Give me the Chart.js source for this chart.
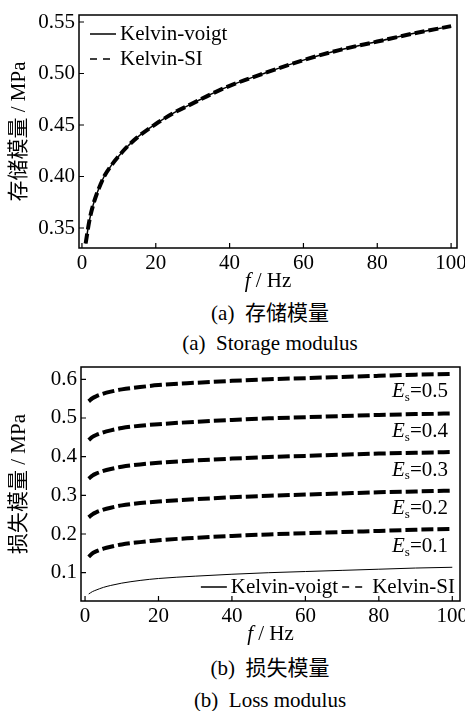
<!DOCTYPE html>
<html>
<head>
<meta charset="utf-8">
<script src="https://cdn.jsdelivr.net/npm/chart.js@4"></script>
<style>
  body { margin: 0; background: #fff; width: 465px; height: 711px; position: relative; overflow: hidden;
         font-family: "Liberation Serif", "Noto Sans CJK SC", serif; color: #000; }
  canvas { position: absolute; left: 0; }
  #storageChart { top: 0; }
  #lossChart { top: 352px; }
  .cap { position: absolute; left: 0; width: 540px; text-align: center; font-size: 21px; line-height: 24px; white-space: pre; }
</style>
</head>
<body>
<canvas id="storageChart" width="465" height="300"></canvas>
<div class="cap" style="top:301px">(a)  存储模量</div>
<div class="cap" style="top:331px">(a)  Storage modulus</div>
<canvas id="lossChart" width="465" height="300"></canvas>
<div class="cap" style="top:656px">(b)  损失模量</div>
<div class="cap" style="top:688px">(b)  Loss modulus</div>

<script>
const FONT = '"Liberation Serif", "Noto Sans CJK SC", serif';

// (a) storage modulus
const storageFreq  = [1, 2, 3, 4, 5, 6, 8, 10, 12, 15, 20, 25, 30, 35, 40, 50, 60, 70, 80, 90, 100];
const storageVoigt = [0.335, 0.357, 0.372, 0.383, 0.392, 0.400, 0.411, 0.420, 0.428, 0.438, 0.451,
                      0.462, 0.471, 0.480, 0.488, 0.501, 0.513, 0.523, 0.531, 0.539, 0.546];
const storageSI    = [0.335, 0.357, 0.372, 0.383, 0.392, 0.400, 0.411, 0.420, 0.428, 0.438, 0.451,
                      0.462, 0.471, 0.480, 0.488, 0.501, 0.513, 0.523, 0.531, 0.539, 0.546];
const storageTicksX = [0, 20, 40, 60, 80, 100];
const storageTicksY = [0.35, 0.40, 0.45, 0.50, 0.55];

// (b) loss modulus
const lossFreq  = [1, 2, 3, 5, 7, 10, 15, 20, 30, 40, 50, 60, 70, 80, 90, 100];
const lossVoigt = [0.045, 0.051, 0.055, 0.062, 0.067, 0.073, 0.080, 0.085, 0.091, 0.096, 0.100, 0.103, 0.106, 0.109, 0.112, 0.114];
const lossSI01  = [0.141, 0.150, 0.155, 0.162, 0.167, 0.173, 0.179, 0.184, 0.190, 0.195, 0.199, 0.202, 0.205, 0.208, 0.211, 0.213];
const lossSI02  = [0.243, 0.251, 0.256, 0.263, 0.268, 0.274, 0.280, 0.284, 0.290, 0.295, 0.299, 0.302, 0.305, 0.308, 0.310, 0.312];
const lossSI03  = [0.343, 0.351, 0.356, 0.363, 0.368, 0.374, 0.380, 0.384, 0.390, 0.395, 0.399, 0.402, 0.405, 0.408, 0.410, 0.412];
const lossSI04  = [0.443, 0.451, 0.456, 0.463, 0.468, 0.474, 0.480, 0.484, 0.490, 0.495, 0.499, 0.502, 0.505, 0.508, 0.510, 0.512];
const lossSI05  = [0.543, 0.551, 0.556, 0.563, 0.568, 0.574, 0.580, 0.585, 0.591, 0.596, 0.600, 0.603, 0.606, 0.609, 0.612, 0.614];
const esValues  = ['0.1', '0.2', '0.3', '0.4', '0.5'];
const lossTicksX = [0, 20, 40, 60, 80, 100];
const lossTicksY = [0.1, 0.2, 0.3, 0.4, 0.5, 0.6];

const legendItems = [
  { label: 'Kelvin-voigt', dash: [], width: 1.5 },
  { label: 'Kelvin-SI', dash: [7, 6], width: 1.5 }
];

function pts(xs, ys) {
  return xs.map((x, i) => ({ x: x, y: ys[i] }));
}

function line(label, data, dash, width) {
  return {
    label: label, data: data, borderColor: '#000', borderWidth: width, borderDash: dash,
    pointRadius: 0, fill: false, cubicInterpolationMode: 'monotone'
  };
}

function xScale(min, max, ticks) {
  return {
    type: 'linear', min: min, max: max,
    grid: { display: false, drawTicks: false },
    border: { display: false },
    afterBuildTicks: s => { s.ticks = ticks.map(v => ({ value: v })); },
    afterFit: s => { s.height = 40; s.paddingLeft = 0; s.paddingRight = 0; },
    ticks: { color: '#000', font: { family: FONT, size: 21 }, padding: 3, maxRotation: 0, minRotation: 0, autoSkip: false }
  };
}

function yScale(min, max, ticks, digits, width, title) {
  return {
    type: 'linear', min: min, max: max,
    grid: { display: false, drawTicks: false },
    border: { display: false },
    afterBuildTicks: s => { s.ticks = ticks.map(v => ({ value: v })); },
    afterFit: s => { s.width = width; s.paddingTop = 0; s.paddingBottom = 0; },
    ticks: { color: '#000', font: { family: FONT, size: 21 }, padding: 4, autoSkip: false,
             callback: v => Number(v).toFixed(digits) },
    title: { display: true, text: title, color: '#000', font: { family: FONT, size: 21 }, padding: { top: 7, bottom: 0 } }
  };
}

// frame, inward ticks, italic x title, legend and E_s labels
function makeFrame(cfg) {
  return {
    id: 'frame',
    afterDraw(chart) {
      const ctx = chart.ctx;
      const a = chart.chartArea;
      const sx = chart.scales.x, sy = chart.scales.y;
      ctx.save();
      ctx.strokeStyle = '#000';
      ctx.fillStyle = '#000';
      ctx.setLineDash([]);
      ctx.lineWidth = 1.5;
      ctx.strokeRect(a.left, a.top, a.right - a.left, a.bottom - a.top);

      ctx.lineWidth = 1.2;
      ctx.beginPath();
      sx.ticks.forEach(t => {
        const x = sx.getPixelForValue(t.value);
        ctx.moveTo(x, a.bottom); ctx.lineTo(x, a.bottom - 5);
      });
      sy.ticks.forEach(t => {
        const y = sy.getPixelForValue(t.value);
        ctx.moveTo(a.left, y); ctx.lineTo(a.left + 5, y);
      });
      ctx.stroke();

      // x title: f / Hz
      ctx.textBaseline = 'middle';
      ctx.textAlign = 'left';
      ctx.font = 'italic 21px ' + FONT;
      const w1 = ctx.measureText('f').width;
      ctx.font = '21px ' + FONT;
      const w2 = ctx.measureText(' / Hz').width;
      let x = (a.left + a.right) / 2 - (w1 + w2) / 2;
      const ty = a.bottom + 33;
      ctx.font = 'italic 21px ' + FONT;
      ctx.fillText('f', x, ty);
      ctx.font = '21px ' + FONT;
      ctx.fillText(' / Hz', x + w1, ty);

      // legend
      ctx.font = '21px ' + FONT;
      const sample = 26, gap = 4;
      if (cfg.legend === 'column') {
        legendItems.forEach((it, i) => {
          const lx = a.left + 11, ly = a.top + 19 + i * 25;
          ctx.lineWidth = it.width;
          ctx.setLineDash(it.dash);
          ctx.beginPath(); ctx.moveTo(lx, ly); ctx.lineTo(lx + sample, ly); ctx.stroke();
          ctx.setLineDash([]);
          ctx.fillText(it.label, lx + sample + gap, ly);
        });
      } else {
        const widths = legendItems.map(it => sample + gap + ctx.measureText(it.label).width);
        const total = widths.reduce((s, w) => s + w, 0) + gap * (legendItems.length - 1);
        let lx = a.right - 5 - total;
        const ly = a.bottom - 14;
        legendItems.forEach((it, i) => {
          ctx.lineWidth = it.width;
          ctx.setLineDash(it.dash);
          ctx.beginPath(); ctx.moveTo(lx, ly); ctx.lineTo(lx + sample, ly); ctx.stroke();
          ctx.setLineDash([]);
          ctx.fillText(it.label, lx + sample + gap, ly);
          lx += widths[i] + gap;
        });
      }

      // E_s labels under the end of each dashed curve
      if (cfg.es) {
        esValues.forEach((v, i) => {
          const ds = chart.data.datasets[i + 1].data;
          const y = sy.getPixelForValue(ds[ds.length - 1].y) + 18;
          ctx.font = 'italic 21px ' + FONT;
          const wE = ctx.measureText('E').width;
          ctx.font = '13px ' + FONT;
          const wS = ctx.measureText('s').width;
          ctx.font = '21px ' + FONT;
          const wV = ctx.measureText('=' + v).width;
          let lx = a.right - 12 - (wE + wS + wV);
          ctx.font = 'italic 21px ' + FONT;
          ctx.fillText('E', lx, y);
          ctx.font = '13px ' + FONT;
          ctx.fillText('s', lx + wE, y + 6);
          ctx.font = '21px ' + FONT;
          ctx.fillText('=' + v, lx + wE + wS, y);
        });
      }
      ctx.restore();
    }
  };
}

new Chart(document.getElementById('storageChart'), {
  type: 'line',
  data: {
    datasets: [
      line('Kelvin-voigt', pts(storageFreq, storageVoigt), [], 1.5),
      line('Kelvin-SI', pts(storageFreq, storageSI), [10, 4], 4)
    ]
  },
  options: {
    responsive: false,
    animation: false,
    devicePixelRatio: 1,
    layout: { padding: { top: 15, right: 8, left: 0, bottom: 12 } },
    plugins: { legend: { display: false }, tooltip: { enabled: false } },
    scales: {
      x: xScale(-0.8, 101.6, storageTicksX),
      y: yScale(0.3306, 0.5568, storageTicksY, 2, 79, '存储模量 / MPa')
    }
  },
  plugins: [makeFrame({ legend: 'column', es: false })]
});

new Chart(document.getElementById('lossChart'), {
  type: 'line',
  data: {
    datasets: [
      line('Kelvin-voigt', pts(lossFreq, lossVoigt), [], 1),
      line('Kelvin-SI 0.1', pts(lossFreq, lossSI01), [12, 4], 4),
      line('Kelvin-SI 0.2', pts(lossFreq, lossSI02), [12, 4], 4),
      line('Kelvin-SI 0.3', pts(lossFreq, lossSI03), [12, 4], 4),
      line('Kelvin-SI 0.4', pts(lossFreq, lossSI04), [12, 4], 4),
      line('Kelvin-SI 0.5', pts(lossFreq, lossSI05), [12, 4], 4)
    ]
  },
  options: {
    responsive: false,
    animation: false,
    devicePixelRatio: 1,
    layout: { padding: { top: 15, right: 5, left: 0, bottom: 11 } },
    plugins: { legend: { display: false }, tooltip: { enabled: false } },
    scales: {
      x: xScale(-1.1, 102.1, lossTicksX),
      y: yScale(0.0268, 0.6318, lossTicksY, 1, 81, '损失模量 / MPa')
    }
  },
  plugins: [makeFrame({ legend: 'row', es: true })]
});
</script>
</body>
</html>
